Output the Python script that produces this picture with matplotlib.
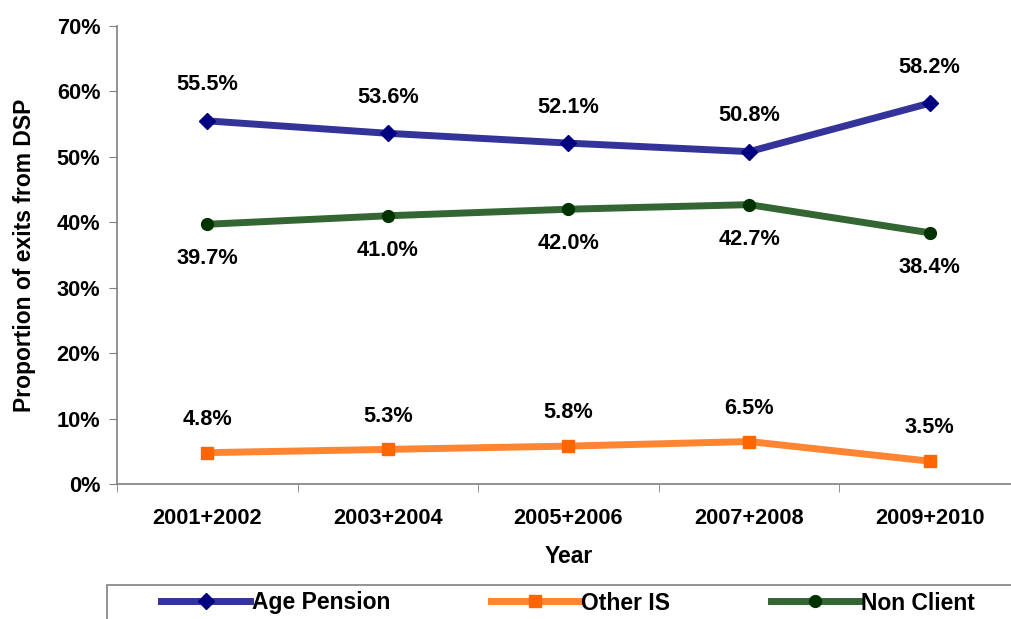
import matplotlib.pyplot as plt
from matplotlib.patches import Rectangle
from matplotlib.ticker import FuncFormatter

plt.rcParams['font.family'] = ['Liberation Sans', 'DejaVu Sans']
plt.rcParams['font.weight'] = 'bold'

years = ['2001+2002', '2003+2004', '2005+2006', '2007+2008', '2009+2010']
age_pension = [55.5, 53.6, 52.1, 50.8, 58.2]
other_is = [4.8, 5.3, 5.8, 6.5, 3.5]
non_client = [39.7, 41.0, 42.0, 42.7, 38.4]

fig = plt.figure(figsize=(10.11, 6.19), dpi=100)
ax = fig.add_axes([0.1157, 0.218, 0.8932, 0.740])

x = list(range(len(years)))
series = [
    (age_pension, 'Age Pension', '#333399', '#000080', 'D', 8.5, 26),
    (other_is, 'Other IS', '#FF8533', '#FF6600', 's', 8, 24),
    (non_client, 'Non Client', '#336633', '#003300', 'o', 8.5, -25),
]

handles = []
for vals, name, lc, mc, mk, ms, off in series:
    ln, = ax.plot(x, [v / 100 for v in vals], color=lc, lw=5, marker=mk,
                  markersize=ms, markerfacecolor=mc, markeredgecolor=mc,
                  solid_joinstyle='miter', zorder=3)
    handles.append(ln)
    for xi, v in zip(x, vals):
        ax.annotate(f'{v:.1f}%', (xi, v / 100), xytext=(0, off),
                    textcoords='offset points', ha='center', va='center',
                    fontsize=15.7, fontweight='bold')

ax.set_xlim(-0.5, len(years) - 0.5)
ax.set_ylim(0, 0.7)
ax.set_yticks([i / 10 for i in range(8)])
ax.yaxis.set_major_formatter(FuncFormatter(lambda v, _: f'{v * 100:.0f}%'))
ax.set_xticks(x)
ax.set_xticklabels(years)
ax.set_xticks([i - 0.5 for i in range(len(years) + 1)], minor=True)
ax.tick_params(axis='x', which='major', length=0, pad=17, labelsize=15.7)
ax.tick_params(axis='x', which='minor', length=6, color='#808080', direction='out')
ax.tick_params(axis='y', length=6, color='#808080', labelsize=15.7, pad=6)

for s in ['top', 'right']:
    ax.spines[s].set_visible(False)
for s in ['left', 'bottom']:
    ax.spines[s].set_color('#808080')
    ax.spines[s].set_linewidth(1.2)

ax.set_xlabel('Year', fontsize=16.5, fontweight='bold')
ax.set_ylabel('Proportion of exits from DSP', fontsize=16.5, fontweight='bold')
ax.xaxis.set_label_coords(0.5, -0.133)
ax.yaxis.set_label_coords(-0.0897, 0.5)

# legend box runs off the bottom and right of the figure
fig.patches.append(Rectangle((107 / 1011, -0.05), 1.0, 0.05 + 34 / 619,
                             transform=fig.transFigure, fill=False,
                             edgecolor='#808080', lw=1.2))
fig.legend(handles=handles, labels=[s[1] for s in series], loc='center',
           bbox_to_anchor=(0.562, 16 / 619), ncol=3, frameon=False,
           handlelength=3.85, handletextpad=0.1, columnspacing=4.38,
           prop={'weight': 'bold', 'size': 16.5})

fig.savefig('out.png', dpi=100)
